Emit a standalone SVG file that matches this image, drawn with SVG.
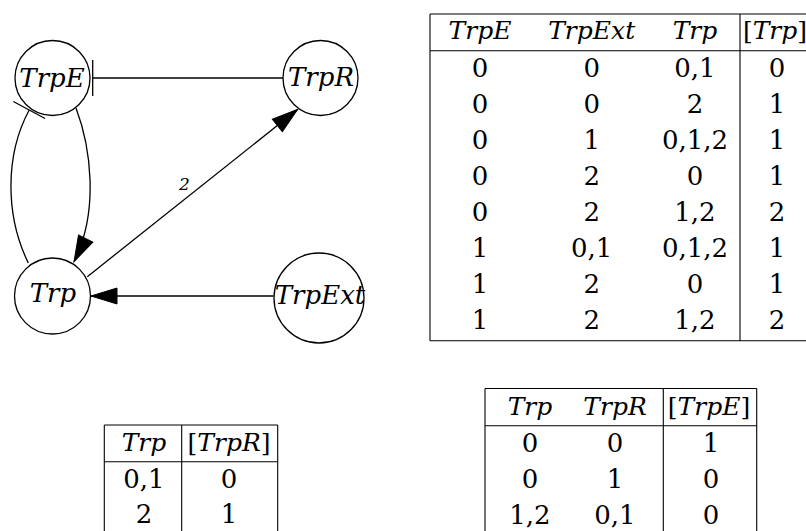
<svg xmlns="http://www.w3.org/2000/svg" width="806" height="531" viewBox="0 0 806 531">
<style>
.node{fill:#fff;stroke:#000;stroke-width:1.3}
text{font-family:'DejaVu Serif','Liberation Serif','Noto Serif',serif}
.nl{font-style:italic;font-size:26px;text-anchor:middle;fill:#000}
.edge{fill:none;stroke:#000;stroke-width:1.3}
.el{font-style:italic;font-size:17px;text-anchor:middle;fill:#000}
.tl{stroke:#000;stroke-width:1.1;fill:none}
.th{font-style:italic;font-size:25px;text-anchor:middle;fill:#000}
.td{font-size:26px;text-anchor:middle;fill:#000}
.up{font-style:normal}
</style>
<defs>
<marker id="arrow" markerUnits="userSpaceOnUse" viewBox="0 0 26 16" markerWidth="26" markerHeight="16" refX="26" refY="8" orient="auto" overflow="visible">
<path d="M0,0 L26,8 L0,16 Z" fill="#000" stroke="#000" stroke-width="1"/>
</marker>
<marker id="tee" markerUnits="userSpaceOnUse" viewBox="0 -18 2 36" markerWidth="2" markerHeight="36" refX="1" refY="0" orient="auto" overflow="visible">
<path d="M1,-18 L1,18" stroke="#000" stroke-width="1.3" fill="none"/>
</marker>
</defs>

<g id="connectors">
<path class="edge" d="M283,78 L92.7,78" marker-end="url(#tee)"/>
<path class="edge" d="M28.3,263 C5,215 5,155 29.2,110" marker-end="url(#tee)"/>
<path class="edge" d="M76,108 C90,145 100,210 74,261.7" marker-end="url(#arrow)"/>
<path class="edge" d="M87.3,276.7 L297.7,109.3" marker-end="url(#arrow)"/>
<path class="edge" d="M273.5,296 L91,296" marker-end="url(#arrow)"/>
<text class="el" x="184.5" y="190">2</text>
</g>

<g id="node-TrpE">
<circle class="node" cx="52.5" cy="78" r="37.5"/>
<text class="nl" x="52" y="87">TrpE</text>
</g>
<g id="node-TrpR">
<circle class="node" cx="320.5" cy="78" r="37.5"/>
<text class="nl" x="321" y="86">TrpR</text>
</g>
<g id="node-Trp">
<circle class="node" cx="52.5" cy="296" r="38"/>
<text class="nl" x="53" y="302">Trp</text>
</g>
<g id="node-TrpExt">
<circle class="node" cx="319" cy="298" r="45"/>
<text class="nl" x="320" y="304">TrpExt</text>
</g>

<g id="table-Trp">
<path class="tl" d="M430,14 L806,14 M430,50.7 L806,50.7 M430,340.7 L806,340.7 M430,14 L430,340.7 M740,14 L740,340.7"/>
<text class="th" x="480" y="39.3">TrpE</text>
<text class="th" x="591.7" y="39.3">TrpExt</text>
<text class="th" x="695" y="39.3">Trp</text>
<text class="th" x="775" y="39.3"><tspan class="up">[</tspan>Trp<tspan class="up">]</tspan></text>
<g class="td">
<text x="480" y="77.3">0</text><text x="591.7" y="77.3">0</text><text x="695" y="77.3">0,1</text><text x="777" y="77.3">0</text>
<text x="480" y="113.2">0</text><text x="591.7" y="113.2">0</text><text x="695" y="113.2">2</text><text x="777" y="113.2">1</text>
<text x="480" y="149.1">0</text><text x="591.7" y="149.1">1</text><text x="695" y="149.1">0,1,2</text><text x="777" y="149.1">1</text>
<text x="480" y="185">0</text><text x="591.7" y="185">2</text><text x="695" y="185">0</text><text x="777" y="185">1</text>
<text x="480" y="220.9">0</text><text x="591.7" y="220.9">2</text><text x="695" y="220.9">1,2</text><text x="777" y="220.9">2</text>
<text x="480" y="256.8">1</text><text x="591.7" y="256.8">0,1</text><text x="695" y="256.8">0,1,2</text><text x="777" y="256.8">1</text>
<text x="480" y="292.7">1</text><text x="591.7" y="292.7">2</text><text x="695" y="292.7">0</text><text x="777" y="292.7">1</text>
<text x="480" y="328.6">1</text><text x="591.7" y="328.6">2</text><text x="695" y="328.6">1,2</text><text x="777" y="328.6">2</text>
</g>
</g>

<g id="table-TrpR">
<path class="tl" d="M104.3,425 L277.7,425 M104.3,461.7 L277.7,461.7 M104.3,425 L104.3,531 M181.7,425 L181.7,531 M277.7,425 L277.7,531"/>
<text class="th" x="144" y="451">Trp</text>
<text class="th" x="229" y="451"><tspan class="up">[</tspan>TrpR<tspan class="up">]</tspan></text>
<g class="td">
<text x="144" y="488.3">0,1</text><text x="229" y="488.3">0</text>
<text x="144" y="523.3">2</text><text x="229" y="523.3">1</text>
</g>
</g>

<g id="table-TrpE">
<path class="tl" d="M485,388.5 L756.7,388.5 M485,425.7 L756.7,425.7 M485,388.5 L485,531 M663.3,388.5 L663.3,531 M756.7,388.5 L756.7,531"/>
<text class="th" x="530" y="414.5">Trp</text>
<text class="th" x="615" y="414.5">TrpR</text>
<text class="th" x="709" y="414.5"><tspan class="up">[</tspan>TrpE<tspan class="up">]</tspan></text>
<g class="td">
<text x="530" y="451.7">0</text><text x="615" y="451.7">0</text><text x="711" y="451.7">1</text>
<text x="530" y="487.7">0</text><text x="615" y="487.7">1</text><text x="711" y="487.7">0</text>
<text x="530" y="523.7">1,2</text><text x="615" y="523.7">0,1</text><text x="711" y="523.7">0</text>
</g>
</g>
</svg>
